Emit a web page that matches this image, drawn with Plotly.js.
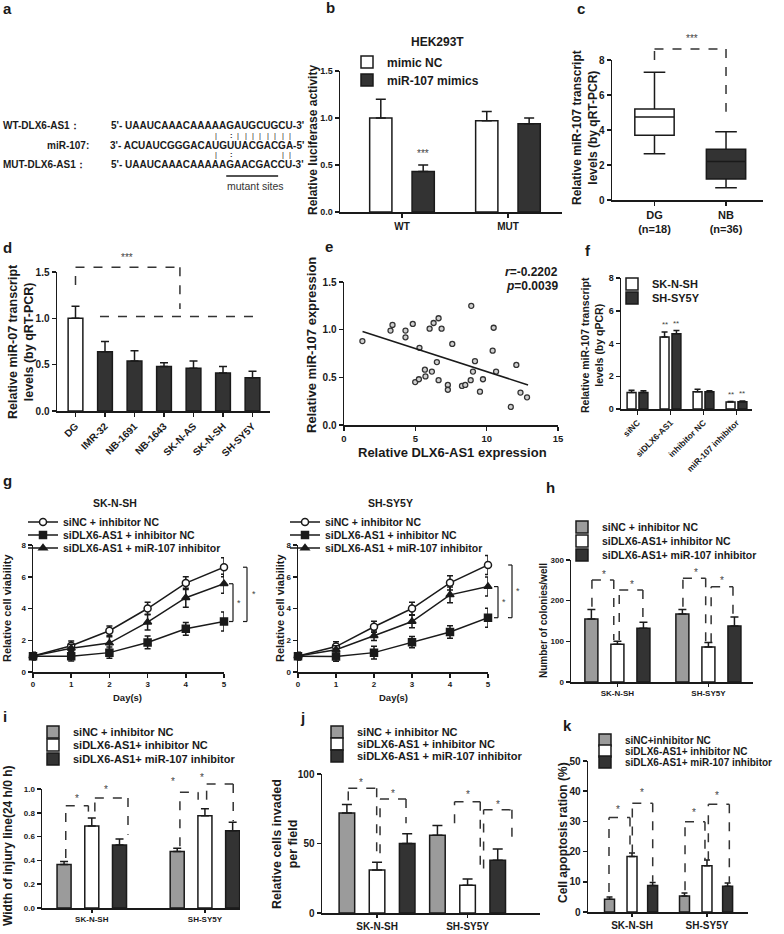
<!DOCTYPE html>
<html>
<head>
<meta charset="utf-8">
<script src="https://cdn.plot.ly/plotly-3.0.1.min.js"></script>
<style>
  html, body { margin: 0; padding: 0; background: #fff; }
  #fig { width: 784px; height: 934px; }
</style>
</head>
<body>
<div id="fig"></div>
<script>
// ---------- values ----------
// a: binding site
const wtSeq = 'UAAUCAAACAAAAAGAUGCUGCU';
const mirSeq = 'ACUAUCGGGACAUGUUACGACGA';
const mutSeq = 'UAAUCAAACAAAAAGAACGACCU';
const wtPairs = [13, 16, 17, 18, 19, 20, 21, 22, 23];
const mutPairs = [13, 22, 23];
const wobble = [15];

// b: luciferase
const lucCats = ['WT', 'MUT'];
const lucNC = [1.0, 0.97];
const lucNCErr = [0.2, 0.1];
const lucMimic = [0.43, 0.94];
const lucMimicErr = [0.07, 0.06];

// c: tissue boxplot
const boxCats = ['DG<br>(n=18)', 'NB<br>(n=36)'];
const boxLow = [2.65, 0.7];
const boxQ1 = [3.7, 1.2];
const boxMed = [4.75, 2.2];
const boxQ3 = [5.2, 2.9];
const boxHigh = [7.3, 3.9];

// d: cell lines
const lineCats = ['DG', 'IMR-32', 'NB-1691', 'NB-1643', 'SK-N-AS', 'SK-N-SH', 'SH-SY5Y'];
const lineVals = [1.0, 0.64, 0.54, 0.48, 0.46, 0.41, 0.36];
const lineErr = [0.13, 0.11, 0.11, 0.04, 0.08, 0.07, 0.07];

// e: correlation
const dlxExpr = [1.29, 3.26, 3.4, 4.31, 4.31, 4.82, 4.99, 5.25, 5.29, 5.67, 5.71, 6.0,
  6.16, 6.28, 6.51, 6.63, 6.63, 6.84, 7.28, 7.28, 7.59, 8.27, 8.5, 8.88, 8.92, 9.04,
  9.18, 9.53, 9.74, 10.42, 10.49, 10.66, 11.69, 12.08, 12.37, 12.83];
const mirExpr = [0.88, 0.99, 1.05, 0.99, 0.92, 1.06, 0.45, 0.48, 0.81, 0.58, 0.51, 1.01,
  0.56, 1.07, 0.66, 0.47, 1.12, 1.01, 0.42, 0.37, 0.85, 0.41, 0.42, 0.47, 1.25, 0.56,
  0.67, 0.35, 0.48, 0.78, 1.02, 0.56, 0.19, 0.63, 0.34, 0.29];
const fitX = [1.3, 12.9];
const fitY = [0.98, 0.42];

// f: miR-107 after knockdown
const fCats = ['siNC', 'siDLX6-AS1', 'inhibitor NC', 'miR-107 inhibitor'];
const fSKNSH = [1.0, 4.4, 1.05, 0.42];
const fSKNSHErr = [0.15, 0.3, 0.15, 0.04];
const fSHSY5Y = [1.0, 4.6, 1.05, 0.45];
const fSHSY5YErr = [0.12, 0.2, 0.07, 0.04];

// g: viability
const days = [0, 1, 2, 3, 4, 5];
const gSKNC = [1.0, 1.65, 2.6, 4.0, 5.6, 6.6];
const gSKNCErr = [0.2, 0.3, 0.3, 0.4, 0.4, 0.6];
const gSKSi = [1.0, 1.0, 1.22, 1.86, 2.72, 3.18];
const gSKSiErr = [0.25, 0.3, 0.35, 0.4, 0.4, 0.6];
const gSKInh = [1.0, 1.5, 1.82, 3.14, 4.68, 5.56];
const gSKInhErr = [0.2, 0.25, 0.4, 0.5, 0.6, 0.6];
const gSHNC = [1.0, 1.6, 2.85, 4.0, 5.62, 6.74];
const gSHNCErr = [0.2, 0.3, 0.35, 0.4, 0.45, 0.6];
const gSHSi = [1.0, 0.98, 1.22, 1.88, 2.52, 3.42];
const gSHSiErr = [0.25, 0.3, 0.4, 0.35, 0.4, 0.6];
const gSHInh = [1.0, 1.4, 2.28, 3.18, 4.86, 5.38];
const gSHInhErr = [0.2, 0.25, 0.3, 0.4, 0.5, 0.6];

// h-k: two cell lines, three groups
const cellLines = ['SK-N-SH', 'SH-SY5Y'];
const colNC = [155, 167], colNCErr = [23, 11];
const colSi = [93, 86], colSiErr = [7, 11];
const colInh = [132, 138], colInhErr = [15, 22];
const injNC = [0.365, 0.475], injNCErr = [0.025, 0.028];
const injSi = [0.69, 0.775], injSiErr = [0.067, 0.06];
const injInh = [0.53, 0.65], injInhErr = [0.05, 0.07];
const invNC = [72, 56], invNCErr = [6, 7];
const invSi = [31, 20], invSiErr = [5.5, 4.5];
const invInh = [50, 38], invInhErr = [7, 8];
const apoNC = [4.2, 5.3], apoNCErr = [0.8, 1.0];
const apoSi = [18.4, 15.3], apoSiErr = [1.1, 1.9];
const apoInh = [8.8, 8.5], apoInhErr = [1.0, 1.1];

// ---------- helpers ----------
const W = 784, H = 934;
const X = p => p / W;
const Y = p => 1 - p / H;
const INK = '#1a1a1a', DARK = '#333333', GRAY = '#9b9b9b';
const FONT = '"Liberation Sans", Arial, sans-serif';

const layout = {
    width: W, height: H,
    margin: {l: 0, r: 0, t: 0, b: 0},
    paper_bgcolor: 'white',
    plot_bgcolor: 'rgba(0,0,0,0)',
    font: {family: FONT, size: 10, color: INK, weight: 'bold'},
    hovermode: false,
    annotations: [],
    shapes: []
};
const traces = [];
const panels = {};

function font(size, weight, color) {
    return {family: FONT, size, weight: weight || 'bold', color: color || INK};
}

function panel(n, xpx, ypx, xr, yr, xo, yo) {
    const s = n === 1 ? '' : String(n);
    panels[n] = {xpx, ypx, xr, yr};
    const common = {
        showline: true, linecolor: INK, linewidth: 1.5,
        ticks: 'outside', ticklen: 4, tickwidth: 1.5, tickcolor: INK,
        showgrid: false, zeroline: false, fixedrange: true,
        tickfont: font(10)
    };
    layout['xaxis' + s] = Object.assign({}, common,
        {domain: [X(xpx[0]), X(xpx[1])], range: xr, anchor: 'y' + s}, xo || {});
    layout['yaxis' + s] = Object.assign({}, common,
        {domain: [Y(ypx[0]), Y(ypx[1])], range: yr, anchor: 'x' + s}, yo || {});
    return {x: 'x' + s, y: 'y' + s, n};
}

// data value -> page pixel for a panel
function toPx(n, xv, yv) {
    const p = panels[n];
    const fx = (xv - p.xr[0]) / (p.xr[1] - p.xr[0]);
    const fy = (yv - p.yr[0]) / (p.yr[1] - p.yr[0]);
    return [p.xpx[0] + fx * (p.xpx[1] - p.xpx[0]), p.ypx[0] + fy * (p.ypx[1] - p.ypx[0])];
}

function txt(text, xp, yp, opt) {
    layout.annotations.push(Object.assign({
        text, x: X(xp), y: Y(yp), xref: 'paper', yref: 'paper',
        showarrow: false, xanchor: 'center', yanchor: 'middle', borderpad: 0,
        font: font(10)
    }, opt || {}));
}
function star(n, xv, yv, s, size) {
    const p = toPx(n, xv, yv);
    txt(s, p[0], p[1], {font: font(size || 10, 'normal', '#444')});
}
function seg(a, b, color, width, dash) {
    layout.shapes.push({type: 'line', xref: 'paper', yref: 'paper',
        x0: X(a[0]), y0: Y(a[1]), x1: X(b[0]), y1: Y(b[1]),
        line: {color, width, dash: dash || 'solid'}});
}
function dashPath(pts) {
    for (let i = 1; i < pts.length; i++) seg(pts[i - 1], pts[i], DARK, 1.5, 'dash');
}
function bracket(n, xl, xr, ytop, ybl, ybr) {
    dashPath([toPx(n, xl, ybl), toPx(n, xl, ytop), toPx(n, xr, ytop), toPx(n, xr, ybr)]);
}
function solidPath(pts) {
    for (let i = 1; i < pts.length; i++) seg(pts[i - 1], pts[i], INK, 1.2);
}

let legN = 0;
function legendAt(xLeftPx, yMidPx, size) {
    legN++;
    const key = legN === 1 ? 'legend' : 'legend' + legN;
    layout[key] = {
        x: X(xLeftPx), y: Y(yMidPx), xanchor: 'left', yanchor: 'middle',
        xref: 'paper', yref: 'paper', bgcolor: 'rgba(0,0,0,0)', borderwidth: 0,
        font: font(size), itemwidth: 30, itemclick: false, itemdoubleclick: false
    };
    return key;
}

function bars(ax, cats, vals, errs, color, center, w, cap, name, leg) {
    traces.push({
        type: 'bar', x: cats, y: vals, xaxis: ax.x, yaxis: ax.y,
        offset: center - w / 2, width: w,
        marker: {color, line: {color: INK, width: 1.5}},
        error_y: {type: 'data', symmetric: false, array: errs, arrayminus: errs.map(() => 0),
            color: INK, thickness: 1.5, width: cap},
        name: name || '', legend: leg, showlegend: !!leg
    });
}

function curve(ax, ys, errs, symbol, fill, name, leg) {
    traces.push({
        type: 'scatter', mode: 'lines+markers', x: days, y: ys, xaxis: ax.x, yaxis: ax.y,
        line: {color: INK, width: 1.5},
        marker: {symbol, size: 7, color: fill, line: {color: INK, width: 1.5}},
        error_y: {type: 'data', array: errs, color: INK, thickness: 1.5, width: 3},
        name, legend: leg, showlegend: true, cliponaxis: false
    });
}

// ---------- panel letters ----------
[['a', 7, 9], ['b', 330, 8], ['c', 581, 9], ['d', 8, 247], ['e', 329, 246], ['f', 588, 250],
 ['g', 7, 480], ['h', 550, 488], ['i', 5, 716], ['j', 302, 717], ['k', 567, 725]]
    .forEach(l => txt(l[0], l[1], l[2], {font: font(15)}));

// ---------- a: sequences ----------
const ctx = document.createElement('canvas').getContext('2d');
ctx.font = 'bold 10px "Liberation Sans"';
const seqRight = 305;
const mirLine = "3'- " + mirSeq + "-5'";
const mirStart = seqRight - ctx.measureText(mirLine).width;
function letterX(k) {
    const pre = "3'- " + mirSeq.slice(0, k - 1);
    return mirStart + ctx.measureText(pre).width + ctx.measureText(mirSeq[k - 1]).width / 2;
}
const seqFont = font(10);
txt('WT-DLX6-AS1：', 2, 125, {xanchor: 'left', font: seqFont});
txt("5'- " + wtSeq + "-3'", seqRight, 125, {xanchor: 'right', font: seqFont});
txt('miR-107:', 90, 145, {xanchor: 'right', font: seqFont});
txt(mirLine, seqRight, 145, {xanchor: 'right', font: seqFont});
txt('MUT-DLX6-AS1：', 2, 164, {xanchor: 'left', font: seqFont});
txt("5'- " + mutSeq + "-3'", seqRight, 164, {xanchor: 'right', font: seqFont});
wtPairs.forEach(k => txt('|', letterX(k), 135.5, {font: font(7.5, 'normal')}));
wobble.forEach(k => txt(':', letterX(k), 135.5, {font: font(7.5)}));
mutPairs.forEach(k => txt('|', letterX(k), 154.5, {font: font(7.5, 'normal')}));
wobble.forEach(k => txt(':', letterX(k), 154.5, {font: font(7.5)}));
seg([letterX(15) - 5, 176], [letterX(21) + 3, 176], INK, 1.3);
txt('mutant sites', 256, 186, {font: font(10.5, 'normal', '#333')});

// ---------- b ----------
const pb = panel(1, [340, 562], [212, 71], [-0.585, 1.51], [0, 1.5],
    {}, {dtick: 0.5, tickformat: '.1f', tickfont: font(9)});
bars(pb, lucCats, lucNC, lucNCErr, 'white', -0.2, 0.21, 5, 'mimic NC', legendAt(347, 62, 12));
bars(pb, lucCats, lucMimic, lucMimicErr, DARK, 0.2, 0.21, 5, 'miR-107 mimics', legendAt(347, 80, 12));
txt('HEK293T', 437, 42, {font: font(12)});
txt('Relative luciferase activity', 313, 140, {textangle: -90, font: font(12)});
star(1, 0.2, 0.62, '***');

// ---------- c ----------
const pc = panel(2, [612, 763], [200, 60], [-0.594, 1.517], [0, 8],
    {tickfont: font(11), categoryorder: 'array', categoryarray: boxCats}, {dtick: 2});
[0, 1].forEach(i => traces.push({
    type: 'box', x: [boxCats[i]], q1: [boxQ1[i]], median: [boxMed[i]], q3: [boxQ3[i]],
    lowerfence: [boxLow[i]], upperfence: [boxHigh[i]], xaxis: pc.x, yaxis: pc.y,
    width: 0.55, whiskerwidth: 0.55, fillcolor: i === 0 ? 'white' : DARK,
    line: {color: INK, width: 1.5}, boxpoints: false, showlegend: false
}));
txt('Relative miR-107 transcript<br>levels (by qRT-PCR)', 585, 128, {textangle: -90, font: font(12)});
bracket(2, 0, 1, 8.63, 8.0, 5.05);
star(2, 0.52, 9.24, '***');

// ---------- d ----------
const pd = panel(3, [57, 270], [411, 272], [-0.627, 6.593], [0, 1.5],
    {tickangle: -45}, {dtick: 0.5, tickformat: '.1f'});
bars(pd, lineCats, lineVals, lineErr, lineCats.map((c, i) => i === 0 ? 'white' : DARK), 0, 0.5, 4);
txt('Relative miR-07 transcript<br>levels (by qRT-PCR)', 21, 342, {textangle: -90, font: font(12.5)});
bracket(3, 0, 3.54, 1.55, 1.36, 1.1);
dashPath([toPx(3, 0.83, 1.02), toPx(3, 6.03, 1.02)]);
star(3, 1.75, 1.66, '***');

// ---------- e ----------
const pe = panel(4, [344, 558], [425, 282], [0, 15], [0, 1.5],
    {dtick: 5, tickfont: font(9.5)}, {dtick: 0.5, tickformat: '.1f'});
traces.push({type: 'scatter', mode: 'markers', x: dlxExpr, y: mirExpr, xaxis: pe.x, yaxis: pe.y,
    marker: {symbol: 'circle', size: 5, color: '#d0d0d0', line: {color: DARK, width: 1.3}},
    showlegend: false, cliponaxis: false});
traces.push({type: 'scatter', mode: 'lines', x: fitX, y: fitY, xaxis: pe.x, yaxis: pe.y,
    line: {color: INK, width: 1.5}, showlegend: false});
txt('Relative miR-107 expression', 311, 345, {textangle: -90, font: font(13)});
txt('Relative DLX6-AS1 expression', 452, 452, {font: font(13)});
txt('<i>r</i>=-0.2202', 559, 272, {xanchor: 'right', font: font(12)});
txt('<i>p</i>=0.0039', 559, 286, {xanchor: 'right', font: font(12)});

// ---------- f ----------
const pf = panel(5, [621, 752], [409, 278], [-0.5, 3.47], [0, 8],
    {tickangle: -45, tickfont: font(8.5)}, {dtick: 2, tickfont: font(9)});
bars(pf, fCats, fSKNSH, fSKNSHErr, 'white', -0.18, 0.27, 3, 'SK-N-SH', legendAt(612, 284, 11));
bars(pf, fCats, fSHSY5Y, fSHSY5YErr, DARK, 0.18, 0.27, 3, 'SH-SY5Y', legendAt(612, 298, 11));
txt('Relative miR-107 transcript<br>levels (by qPCR)', 592, 345, {textangle: -90, font: font(10.5)});
[1, 3].forEach(i => {
    star(5, i - 0.18, fSKNSH[i] + fSKNSHErr[i] + 0.45, '**', 8);
    star(5, i + 0.18, fSHSY5Y[i] + fSHSY5YErr[i] + 0.45, '**', 8);
});

// ---------- g ----------
const gx = {dtick: 1, tickfont: font(8)};
const gy = {dtick: 2, tickfont: font(8)};
const pg1 = panel(6, [33, 224], [672, 545], [0, 5], [0, 8], gx, gy);
const pg2 = panel(7, [298, 488], [672, 545], [0, 5], [0, 8], gx, gy);
curve(pg1, gSKNC, gSKNCErr, 'circle', 'white', 'siNC + inhibitor NC', legendAt(23, 522, 10.5));
curve(pg1, gSKSi, gSKSiErr, 'square', INK, 'siDLX6-AS1 + inhibitor NC', legendAt(23, 535, 10.5));
curve(pg1, gSKInh, gSKInhErr, 'triangle-up', INK, 'siDLX6-AS1 + miR-107 inhibitor', legendAt(23, 548, 10.5));
curve(pg2, gSHNC, gSHNCErr, 'circle', 'white', 'siNC + inhibitor NC', legendAt(285, 522, 10.5));
curve(pg2, gSHSi, gSHSiErr, 'square', INK, 'siDLX6-AS1 + inhibitor NC', legendAt(285, 535, 10.5));
curve(pg2, gSHInh, gSHInhErr, 'triangle-up', INK, 'siDLX6-AS1 + miR-107 inhibitor', legendAt(285, 548, 10.5));
txt('SK-N-SH', 115, 503, {font: font(10.5)});
txt('SH-SY5Y', 390, 503, {font: font(10.5)});
txt('Relative cell viability', 7, 608, {textangle: -90, font: font(11)});
txt('Relative cell viability', 280, 608, {textangle: -90, font: font(11)});
txt('Day(s)', 128, 697, {font: font(9.5)});
txt('Day(s)', 393, 697, {font: font(9.5)});
function viaBracket(n, xPx, yTop, yBot, starX) {
    const t = toPx(n, 5, yTop)[1], b = toPx(n, 5, yBot)[1];
    solidPath([[xPx - 4, t], [xPx, t], [xPx, b], [xPx - 4, b]]);
    txt('*', starX, (t + b) / 2, {font: font(9, 'normal', '#444')});
}
viaBracket(6, 233, gSKInh[5], gSKSi[5], 239);
viaBracket(6, 247, gSKNC[5], gSKSi[5], 254);
viaBracket(7, 498, gSHInh[5], gSHSi[5], 504);
viaBracket(7, 512, gSHNC[5], gSHSi[5], 518);

// ---------- h ----------
const ph = panel(8, [571, 753], [682, 560], [-0.51, 1.49], [0, 300],
    {tickfont: font(8), ticklen: 3}, {dtick: 100, tickfont: font(8)});
bars(ph, cellLines, colNC, colNCErr, GRAY, -0.286, 0.143, 4, 'siNC + inhibitor NC', legendAt(562, 527, 10.5));
bars(ph, cellLines, colSi, colSiErr, 'white', 0, 0.143, 4, 'siDLX6-AS1+ inhibitor NC', legendAt(562, 541, 10.5));
bars(ph, cellLines, colInh, colInhErr, DARK, 0.286, 0.143, 4, 'siDLX6-AS1+ miR-107 inhibitor', legendAt(562, 555, 10.5));
txt('Number of colonies/well', 543, 621, {textangle: -90, font: font(10)});
[[-0.28, -0.04, 251, 185, 103], [0.02, 0.28, 226, 103, 152],
 [0.72, 0.97, 255, 185, 98], [1.03, 1.27, 234, 98, 166]].forEach(b => bracket(8, ...b));
[[-0.15, 265], [0.155, 240], [0.86, 269], [1.145, 249]].forEach(s => star(8, s[0], s[1], '*'));

// ---------- i ----------
const pi = panel(9, [42, 240], [908, 789], [-0.44, 1.31], [0, 1],
    {tickfont: font(8), ticklen: 3}, {dtick: 0.2, tickformat: '.1f', tickfont: font(8)});
bars(pi, cellLines, injNC, injNCErr, GRAY, -0.245, 0.124, 4, 'siNC + inhibitor NC', legendAt(33, 732, 11));
bars(pi, cellLines, injSi, injSiErr, 'white', 0, 0.124, 4, 'siDLX6-AS1+ inhibitor NC', legendAt(33, 745, 11));
bars(pi, cellLines, injInh, injInhErr, DARK, 0.245, 0.124, 4, 'siDLX6-AS1+ miR-107 inhibitor', legendAt(33, 759, 11));
txt('Width of injury line(24 h/0 h)', 8, 846, {textangle: -90, font: font(12)});
[[-0.23, -0.03, 0.86, 0.42, 0.81], [0.027, 0.32, 0.924, 0.81, 0.616],
 [0.779, 0.94, 0.972, 0.518, 0.91], [1.015, 1.25, 1.042, 0.91, 0.728]].forEach(b => bracket(9, ...b));
[[-0.13, 0.92], [0.124, 1.0], [0.72, 1.06], [0.97, 1.1]].forEach(s => star(9, s[0], s[1], '*'));

// ---------- j ----------
const pj = panel(10, [322, 540], [913, 774], [-0.608, 1.80], [0, 100],
    {tickfont: font(10), ticklen: 3}, {dtick: 50, tickfont: font(10)});
bars(pj, cellLines, invNC, invNCErr, GRAY, -0.333, 0.172, 5, 'siNC + inhibitor NC', legendAt(317, 732, 11));
bars(pj, cellLines, invSi, invSiErr, 'white', 0, 0.172, 5, 'siDLX6-AS1 + inhibitor NC', legendAt(317, 744, 11));
bars(pj, cellLines, invInh, invInhErr, DARK, 0.333, 0.172, 5, 'siDLX6-AS1 + miR-107 inhibitor', legendAt(317, 756, 11));
txt('Relative cells invaded<br>per field', 285, 844, {textangle: -90, font: font(12.5)});
[[-0.318, -0.004, 89.7, 81, 43], [0.033, 0.32, 82, 43, 64.6],
 [0.856, 1.14, 80, 64.6, 32], [1.177, 1.49, 74.2, 32, 52.6]].forEach(b => bracket(10, ...b));
[[-0.177, 94], [0.174, 86], [1.0, 85], [1.34, 78]].forEach(s => star(10, s[0], s[1], '*'));

// ---------- k ----------
const pk = panel(11, [588, 748], [912, 761], [-0.587, 1.547], [0, 50],
    {tickfont: font(10), ticklen: 3}, {dtick: 10, tickfont: font(10)});
bars(pk, cellLines, apoNC, apoNCErr, GRAY, -0.3, 0.133, 3, 'siNC+inhibitor NC', legendAt(585, 740, 10));
bars(pk, cellLines, apoSi, apoSiErr, 'white', 0, 0.133, 3, 'siDLX6-AS1+ inhibitor NC', legendAt(585, 751, 10));
bars(pk, cellLines, apoInh, apoInhErr, DARK, 0.275, 0.133, 3, 'siDLX6-AS1+ miR-107 inhibitor', legendAt(585, 762, 10));
txt('Cell apoptosis ration (%)', 563, 833, {textangle: -90, font: font(12)});
[[-0.307, -0.027, 31.3, 6.6, 19.4], [0.004, 0.276, 36, 19.4, 10],
 [0.707, 0.973, 29.9, 7.2, 17.1], [1.018, 1.298, 35.7, 17.1, 9.6]].forEach(b => bracket(11, ...b));
[[-0.182, 34], [0.138, 39.5], [0.831, 33], [1.138, 38.5]].forEach(s => star(11, s[0], s[1], '*'));

Plotly.newPlot('fig', traces, layout, {staticPlot: true, displayModeBar: false});
</script>
</body>
</html>
